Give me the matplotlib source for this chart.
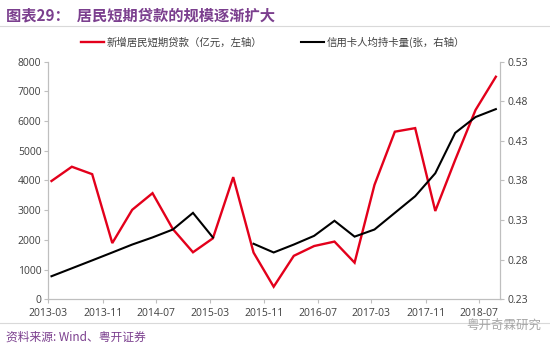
import numpy as np
import pandas as pd
import matplotlib
matplotlib.use("Agg")
import matplotlib.pyplot as plt
import matplotlib.dates as mdates

plt.rcParams["font.family"] = ["Noto Sans CJK SC", "DejaVu Sans"]

# quarterly observations, 2013-03 .. 2018-09 (plotted mid-month)
dates = pd.date_range("2013-03-01", "2018-09-01", freq="3MS") + pd.Timedelta(days=14)
loans = [3980, 4460, 4210, 1890, 3010, 3570, 2360, 1580, 2050, 4110, 1570, 420,
         1460, 1790, 1940, 1230, 3850, 5640, 5760, 2970, 4690, 6370, 7490]
cards = [0.259, 0.269, 0.279, 0.289, 0.299, 0.308, 0.318, 0.339, 0.308, np.nan,
         0.300, 0.289, 0.299, 0.310, 0.329, 0.309, 0.318, 0.339, 0.360, 0.389,
         0.440, 0.460, 0.470]
xticks = pd.date_range("2013-03-01", periods=9, freq="8MS")
left_ticks = np.arange(0, 8001, 1000)
right_ticks = [0.23, 0.28, 0.33, 0.38, 0.43, 0.48, 0.53]

purple = "#7B3F8E"
grey = "#BFBFBF"
tick_font = dict(family=["Open Sans", "DejaVu Sans"], size=7.5, color="#404040")

fig = plt.figure(figsize=(5.5, 3.52), dpi=100)
ax = fig.add_axes([0.088, 0.150, 0.822, 0.675])
ax2 = ax.twinx()

l1, = ax.plot(dates, loans, color="#E3001B", lw=1.7, solid_joinstyle="miter")
l2, = ax2.plot(dates, cards, color="black", lw=1.5, solid_joinstyle="miter")

ax.set_ylim(0, 8000)
ax.set_yticks(left_ticks)
ax2.set_ylim(0.23, 0.53)
ax2.set_yticks(right_ticks)
ax2.set_yticklabels([f"{v:.2f}" for v in right_ticks])
ax.set_xlim(pd.Timestamp("2013-03-01"), pd.Timestamp("2018-10-06"))
ax.set_xticks(xticks)
ax.xaxis.set_major_formatter(mdates.DateFormatter("%Y-%m"))

for a in (ax, ax2):
    a.spines["top"].set_visible(False)
    for s in ("left", "right", "bottom"):
        a.spines[s].set_color(grey)
        a.spines[s].set_linewidth(0.8)
    a.tick_params(length=3, width=0.8, color=grey, pad=2)
    for lab in a.get_xticklabels() + a.get_yticklabels():
        lab.set_fontfamily(tick_font["family"])
        lab.set_fontsize(tick_font["size"])
        lab.set_color(tick_font["color"])
ax.tick_params(axis="x", pad=3)

# legend as two separate entries
fig.legend([l1], ["新增居民短期贷款（亿元，左轴）"], loc="center left",
           bbox_to_anchor=(0.13, 0.88), frameon=False, fontsize=7.5,
           handlelength=2.2, handletextpad=0.3, labelcolor="#404040")
fig.legend([l2], ["信用卡人均持卡量(张，右轴）"], loc="center left",
           bbox_to_anchor=(0.53, 0.88), frameon=False, fontsize=7.5,
           handlelength=2.2, handletextpad=0.3, labelcolor="#404040")

# title, rules, source
fig.text(0.01, 0.955, "图表29：  居民短期贷款的规模逐渐扩大", color=purple,
         fontsize=11, fontweight="bold", va="center", ha="left")
fig.add_artist(plt.Line2D([0.0, 1.0], [0.925, 0.925], color="#D9D9D9", lw=0.8))
fig.add_artist(plt.Line2D([0.0, 1.0], [0.083, 0.083], color="#D9D9D9", lw=0.8))
fig.text(0.01, 0.042, "资料来源: Wind、粤开证券", color=purple, fontsize=8.5,
         style="italic", va="center", ha="left")
fig.text(0.985, 0.075, "粤开奇霖研究", color="#A6A6A6", fontsize=9,
         va="center", ha="right")

fig.savefig("out.png", dpi=100)
